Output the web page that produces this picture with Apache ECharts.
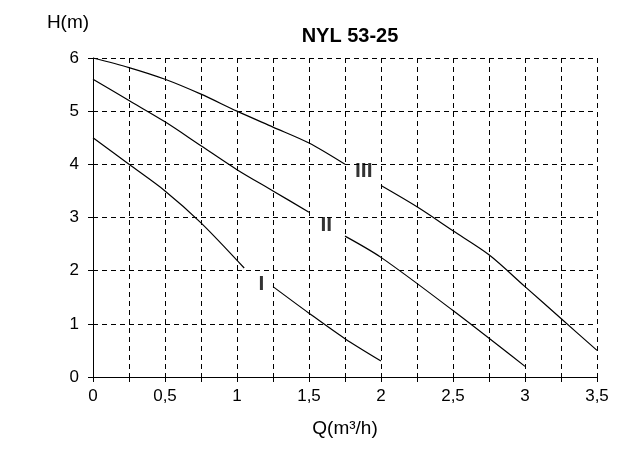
<!DOCTYPE html>
<html><head><meta charset="utf-8">
<script src="https://cdn.jsdelivr.net/npm/echarts@6/dist/echarts.min.js"></script>
<style>html,body{margin:0;background:#fff}#c{width:618px;height:468px}</style>
</head><body><div id="c"></div>
<script>
// curve points [Q, H]; null = gap where the curve name sits
var curveI = [[0,4.5],[0.25,4.0],[0.5,3.5],[0.75,2.9],[1.05,2.05],null,[1.25,1.7],[1.5,1.2],[1.75,0.72],[2,0.3]];
var curveII = [[0,5.6],[0.25,5.2],[0.5,4.8],[0.75,4.35],[1,3.9],[1.25,3.5],[1.5,3.1],null,[1.75,2.65],[2,2.25],[2.5,1.25],[3,0.2]];
var curveIII = [[0,6],[0.25,5.82],[0.5,5.6],[0.75,5.32],[1,5.0],[1.25,4.7],[1.5,4.4],[1.75,4.0],null,[2,3.6],[2.25,3.2],[2.5,2.75],[2.75,2.3],[3,1.7],[3.25,1.1],[3.5,0.5]];
var curveNames = [[1.17,1.75,'I'],[1.62,2.85,'II'],[1.88,3.88,'III']];

var myChart = echarts.init(document.getElementById('c'));
var font = 'Liberation Sans, Arial, sans-serif';
function line(d) {
    return {type:'line', data:d, symbol:'none', connectNulls:false, smooth:0.3,
        lineStyle:{color:'#000', width:1.2}};
}
option = {
    animation:false,
    title:{text:'NYL 53-25', left:345, top:21, textAlign:'center',
        textStyle:{fontFamily:font, fontSize:20, fontWeight:'bold', color:'#000'}},
    grid:{left:93, right:21, top:58, bottom:91},
    xAxis:{type:'value', min:0, max:3.5, interval:0.25,
        name:'Q(m³/h)', nameLocation:'middle', nameGap:42,
        nameTextStyle:{fontFamily:font, fontSize:19, color:'#000'},
        axisLine:{lineStyle:{color:'#000'}}, axisTick:{lineStyle:{color:'#000'}},
        axisLabel:{fontFamily:font, fontSize:17, color:'#000', margin:11,
            formatter:function(v){ return Math.round(v*4)%2 ? '' : String(v).replace('.', ','); }},
        splitLine:{lineStyle:{color:'#000', type:[5,4], width:1}}},
    yAxis:{type:'value', min:0, max:6, interval:1,
        name:'H(m)', nameLocation:'end', nameGap:26,
        nameTextStyle:{fontFamily:font, fontSize:19, color:'#000', padding:[0,50,0,0]},
        axisLine:{show:true, lineStyle:{color:'#000'}}, axisTick:{show:true, lineStyle:{color:'#000'}},
        axisLabel:{fontFamily:font, fontSize:17, color:'#000', margin:14},
        splitLine:{lineStyle:{color:'#000', type:[5,4], width:1}}},
    series:[line(curveI), line(curveII), line(curveIII),
        {type:'scatter', symbolSize:0,
         data:curveNames.map(function(p){ return {value:[p[0],p[1]], name:p[2]}; }),
         label:{show:true, position:'inside', formatter:'{b}',
            fontFamily:font, fontSize:21, fontWeight:'bold', color:'#000'}}]
};
myChart.setOption(option);
</script></body></html>
